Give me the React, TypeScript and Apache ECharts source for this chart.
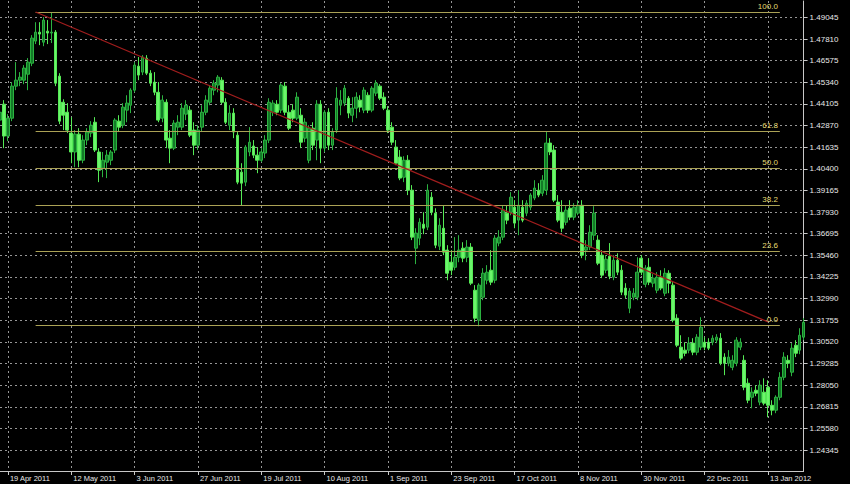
import React, { useEffect, useRef } from "react";
import * as echarts from "echarts";

const openP = [
  1.4318, 1.4409, 1.4227, 1.4329, 1.4512, 1.4546, 1.4546, 1.4580, 1.4643, 1.4769,
  1.4820, 1.4763, 1.4826, 1.4815, 1.4820, 1.4569, 1.4420, 1.4363, 1.4244, 1.4136,
  1.4238, 1.4089, 1.4204, 1.4244, 1.4306, 1.4136, 1.4043, 1.4078, 1.4089, 1.4147,
  1.4312, 1.4289, 1.4375, 1.4403, 1.4489, 1.4626, 1.4592, 1.4672, 1.4586, 1.4535,
  1.4477, 1.4329, 1.4420, 1.4215, 1.4158, 1.4278, 1.4278, 1.4352, 1.4375, 1.4261,
  1.4175, 1.4278, 1.4363, 1.4420, 1.4489, 1.4518, 1.4546, 1.4420, 1.4289, 1.4358,
  1.4232, 1.4021, 1.3964, 1.4136, 1.4170, 1.4118, 1.4089, 1.4130, 1.4204, 1.4363,
  1.4409, 1.4375, 1.4512, 1.4363, 1.4375, 1.4329, 1.4346, 1.4215, 1.4089, 1.4272,
  1.4204, 1.4409, 1.4158, 1.4363, 1.4175, 1.4261, 1.4403, 1.4415, 1.4443, 1.4346,
  1.4386, 1.4432, 1.4375, 1.4460, 1.4375, 1.4472, 1.4512, 1.4449, 1.4375, 1.4278,
  1.4164, 1.4107, 1.3992, 1.4089, 1.3918, 1.3587, 1.3644, 1.3724, 1.3707, 1.3878,
  1.3787, 1.3598, 1.3701, 1.3576, 1.3507, 1.3478, 1.3535, 1.3587, 1.3535, 1.3593,
  1.3347, 1.3176, 1.3307, 1.3404, 1.3461, 1.3404, 1.3616, 1.3650, 1.3787, 1.3792,
  1.3821, 1.3747, 1.3821, 1.3787, 1.3821, 1.3873, 1.3918, 1.3901, 1.3918, 1.4187,
  1.4147, 1.3850, 1.3792, 1.3735, 1.3815, 1.3764, 1.3787, 1.3832, 1.3576, 1.3593,
  1.3661, 1.3633, 1.3547, 1.3461, 1.3541, 1.3421, 1.3518, 1.3461, 1.3359, 1.3244,
  1.3307, 1.3307, 1.3530, 1.3381, 1.3478, 1.3387, 1.3347, 1.3421, 1.3330, 1.3444,
  1.3376, 1.3187, 1.3022, 1.3005, 1.3005, 1.3045, 1.2993, 1.3022, 1.3050, 1.3050,
  1.3050, 1.3062, 1.3073, 1.2965, 1.2930, 1.2907, 1.2930, 1.3022, 1.2947, 1.2816,
  1.2736, 1.2776, 1.2708, 1.2765, 1.2793, 1.2690, 1.2662, 1.2736, 1.2850, 1.2947,
  1.2879, 1.3033, 1.3005, 1.3079,
];

const highP = [
  1.4386, 1.4432, 1.4352, 1.4535, 1.4649, 1.4592, 1.4632, 1.4672, 1.4803, 1.4877,
  1.4877, 1.4906, 1.4889, 1.4934, 1.4832, 1.4586, 1.4437, 1.4415, 1.4335, 1.4261,
  1.4272, 1.4232, 1.4272, 1.4312, 1.4335, 1.4158, 1.4136, 1.4147, 1.4147, 1.4329,
  1.4346, 1.4415, 1.4460, 1.4500, 1.4649, 1.4678, 1.4689, 1.4689, 1.4603, 1.4592,
  1.4535, 1.4460, 1.4437, 1.4261, 1.4318, 1.4346, 1.4415, 1.4432, 1.4398, 1.4306,
  1.4289, 1.4403, 1.4460, 1.4518, 1.4546, 1.4575, 1.4563, 1.4443, 1.4403, 1.4386,
  1.4250, 1.4072, 1.4175, 1.4278, 1.4204, 1.4164, 1.4158, 1.4232, 1.4443, 1.4432,
  1.4432, 1.4529, 1.4535, 1.4403, 1.4409, 1.4477, 1.4386, 1.4329, 1.4289, 1.4306,
  1.4432, 1.4432, 1.4375, 1.4386, 1.4272, 1.4506, 1.4489, 1.4518, 1.4455, 1.4449,
  1.4477, 1.4460, 1.4506, 1.4477, 1.4512, 1.4546, 1.4523, 1.4477, 1.4398, 1.4306,
  1.4204, 1.4147, 1.4112, 1.4118, 1.3947, 1.3701, 1.3758, 1.3792, 1.3952, 1.3907,
  1.3815, 1.3758, 1.3832, 1.3604, 1.3576, 1.3650, 1.3661, 1.3621, 1.3633, 1.3616,
  1.3376, 1.3387, 1.3473, 1.3490, 1.3576, 1.3661, 1.3690, 1.3832, 1.3832, 1.3907,
  1.3861, 1.3918, 1.3861, 1.3861, 1.3901, 1.3975, 1.3958, 1.4004, 1.4250, 1.4215,
  1.4175, 1.3890, 1.3861, 1.3832, 1.3861, 1.3844, 1.3861, 1.3861, 1.3633, 1.3718,
  1.3827, 1.3661, 1.3576, 1.3547, 1.3616, 1.3547, 1.3558, 1.3490, 1.3387, 1.3359,
  1.3359, 1.3535, 1.3547, 1.3490, 1.3530, 1.3439, 1.3450, 1.3461, 1.3473, 1.3461,
  1.3393, 1.3210, 1.3090, 1.3050, 1.3079, 1.3073, 1.3096, 1.3193, 1.3079, 1.3073,
  1.3090, 1.3096, 1.3102, 1.2987, 1.3005, 1.2976, 1.3079, 1.3073, 1.2976, 1.2844,
  1.2793, 1.2805, 1.2833, 1.2844, 1.2833, 1.2719, 1.2747, 1.2879, 1.2993, 1.2976,
  1.3045, 1.3062, 1.3130, 1.3187,
];

const lowP = [
  1.4295, 1.4158, 1.4198, 1.4312, 1.4489, 1.4512, 1.4523, 1.4489, 1.4626, 1.4752,
  1.4746, 1.4740, 1.4752, 1.4758, 1.4512, 1.4295, 1.4261, 1.4244, 1.4072, 1.4049,
  1.4049, 1.4072, 1.4175, 1.4221, 1.4136, 1.3964, 1.3992, 1.3987, 1.4061, 1.4130,
  1.4250, 1.4272, 1.4306, 1.4358, 1.4477, 1.4546, 1.4575, 1.4575, 1.4512, 1.4460,
  1.4306, 1.4306, 1.4158, 1.4072, 1.4147, 1.4232, 1.4261, 1.4318, 1.4221, 1.4118,
  1.4147, 1.4250, 1.4346, 1.4403, 1.4460, 1.4477, 1.4409, 1.4295, 1.4261, 1.4215,
  1.3952, 1.3832, 1.3941, 1.4112, 1.4101, 1.4015, 1.4078, 1.4101, 1.4187, 1.4341,
  1.4346, 1.4358, 1.4346, 1.4261, 1.4306, 1.4318, 1.4158, 1.4192, 1.4072, 1.4147,
  1.4089, 1.4072, 1.4136, 1.4147, 1.4147, 1.4244, 1.4346, 1.4398, 1.4329, 1.4306,
  1.4329, 1.4363, 1.4358, 1.4358, 1.4363, 1.4455, 1.4432, 1.4375, 1.4244, 1.4175,
  1.4061, 1.3975, 1.3964, 1.3890, 1.3633, 1.3496, 1.3604, 1.3667, 1.3690, 1.3775,
  1.3587, 1.3576, 1.3547, 1.3404, 1.3433, 1.3461, 1.3507, 1.3507, 1.3507, 1.3376,
  1.3164, 1.3141, 1.3290, 1.3381, 1.3376, 1.3387, 1.3598, 1.3633, 1.3724, 1.3775,
  1.3701, 1.3661, 1.3735, 1.3770, 1.3804, 1.3861, 1.3878, 1.3884, 1.3890, 1.4118,
  1.3850, 1.3735, 1.3678, 1.3718, 1.3747, 1.3747, 1.3775, 1.3530, 1.3518, 1.3576,
  1.3633, 1.3490, 1.3416, 1.3444, 1.3410, 1.3404, 1.3433, 1.3319, 1.3302, 1.3216,
  1.3290, 1.3290, 1.3433, 1.3364, 1.3376, 1.3364, 1.3330, 1.3347, 1.3313, 1.3330,
  1.3164, 1.3022, 1.2947, 1.2970, 1.2987, 1.2976, 1.2976, 1.3005, 1.3005, 1.3005,
  1.3033, 1.3045, 1.2919, 1.2862, 1.2913, 1.2890, 1.2913, 1.3005, 1.2776, 1.2702,
  1.2673, 1.2742, 1.2690, 1.2690, 1.2622, 1.2633, 1.2645, 1.2719, 1.2833, 1.2902,
  1.2856, 1.2965, 1.2982, 1.3062,
];

const closeP = [
  1.4363, 1.4227, 1.4329, 1.4512, 1.4546, 1.4563, 1.4615, 1.4649, 1.4786, 1.4820,
  1.4809, 1.4889, 1.4815, 1.4820, 1.4529, 1.4312, 1.4346, 1.4261, 1.4136, 1.4238,
  1.4089, 1.4204, 1.4250, 1.4289, 1.4147, 1.4032, 1.4089, 1.4118, 1.4136, 1.4318,
  1.4278, 1.4392, 1.4415, 1.4489, 1.4632, 1.4575, 1.4678, 1.4586, 1.4529, 1.4477,
  1.4318, 1.4432, 1.4204, 1.4158, 1.4301, 1.4306, 1.4386, 1.4403, 1.4232, 1.4175,
  1.4261, 1.4363, 1.4432, 1.4500, 1.4529, 1.4563, 1.4420, 1.4306, 1.4358, 1.4250,
  1.3964, 1.3958, 1.4164, 1.4192, 1.4118, 1.4089, 1.4136, 1.4204, 1.4420, 1.4415,
  1.4363, 1.4518, 1.4363, 1.4272, 1.4329, 1.4449, 1.4192, 1.4306, 1.4272, 1.4175,
  1.4409, 1.4158, 1.4363, 1.4175, 1.4250, 1.4443, 1.4432, 1.4500, 1.4358, 1.4386,
  1.4449, 1.4392, 1.4489, 1.4375, 1.4500, 1.4529, 1.4443, 1.4386, 1.4261, 1.4192,
  1.4072, 1.3987, 1.4089, 1.3918, 1.3650, 1.3673, 1.3735, 1.3701, 1.3918, 1.3792,
  1.3604, 1.3718, 1.3564, 1.3444, 1.3461, 1.3535, 1.3576, 1.3530, 1.3593, 1.3387,
  1.3187, 1.3376, 1.3444, 1.3450, 1.3393, 1.3644, 1.3650, 1.3804, 1.3747, 1.3878,
  1.3730, 1.3832, 1.3747, 1.3844, 1.3890, 1.3930, 1.3890, 1.3975, 1.4187, 1.4136,
  1.3861, 1.3747, 1.3701, 1.3804, 1.3764, 1.3821, 1.3832, 1.3547, 1.3593, 1.3678,
  1.3787, 1.3501, 1.3433, 1.3524, 1.3427, 1.3518, 1.3450, 1.3336, 1.3319, 1.3342,
  1.3330, 1.3450, 1.3450, 1.3473, 1.3393, 1.3416, 1.3421, 1.3359, 1.3444, 1.3387,
  1.3176, 1.3033, 1.2959, 1.2987, 1.3045, 1.2993, 1.3079, 1.3136, 1.3022, 1.3016,
  1.3073, 1.3079, 1.2930, 1.2930, 1.2965, 1.2947, 1.3062, 1.3050, 1.2793, 1.2719,
  1.2765, 1.2759, 1.2805, 1.2702, 1.2690, 1.2662, 1.2736, 1.2850, 1.2965, 1.2930,
  1.3016, 1.2987, 1.3090, 1.3164,
];

const tickLabels = [
  "19 Apr 2011", "12 May 2011", "3 Jun 2011", "27 Jun 2011", "19 Jul 2011",
  "10 Aug 2011", "1 Sep 2011", "23 Sep 2011", "17 Oct 2011", "8 Nov 2011",
  "30 Nov 2011", "22 Dec 2011", "13 Jan 2012",
];

const yTicks = [
  1.24345, 1.2558, 1.26815, 1.2805, 1.29285, 1.3052, 1.31755, 1.3299, 1.34225,
  1.3546, 1.36695, 1.3793, 1.39165, 1.404, 1.41635, 1.4287, 1.44105, 1.4534,
  1.46575, 1.4781, 1.49045,
];

const fibHigh = 1.4935;
const fibLow = 1.3147;
const fibLevels = [100, 61.8, 50, 38.2, 23.6, 0];
const fibStartIdx = 9;
const fibEndIdx = 197;
const trendStart = { idx: 9, price: 1.4935 };
const trendEnd = { idx: 194, price: 1.3166 };

const startDate = { y: 2011, m: 3, d: 15 };
const skippedDays = ["2011-04-22"];

const MONTHS = ["Jan", "Feb", "Mar", "Apr", "May", "Jun", "Jul", "Aug", "Sep", "Oct", "Nov", "Dec"];

function buildDates(count: number): string[] {
  const out: string[] = [];
  const d = new Date(Date.UTC(startDate.y, startDate.m, startDate.d));
  while (out.length < count) {
    const wd = d.getUTCDay();
    const iso = d.toISOString().slice(0, 10);
    if (wd !== 0 && wd !== 6 && !skippedDays.includes(iso)) {
      out.push(`${d.getUTCDate()} ${MONTHS[d.getUTCMonth()]} ${d.getUTCFullYear()}`);
    }
    d.setUTCDate(d.getUTCDate() + 1);
  }
  return out;
}

export default function App() {
  const ref = useRef<HTMLDivElement>(null);
  useEffect(() => {
    const chart = echarts.init(ref.current!, null, { renderer: "svg" });
    const dates = buildDates(openP.length);
    const data = openP.map((o, i) => [o, closeP[i], lowP[i], highP[i]]);
    const showAt = (_i: number, v: string) => tickLabels.includes(v);

    const fibLines = fibLevels.map((lvl) => {
      const p = fibLow + ((fibHigh - fibLow) * lvl) / 100;
      return [
        { coord: [dates[fibStartIdx], p], name: lvl.toFixed(1) },
        { coord: [dates[fibEndIdx], p] },
      ];
    });
    const trendLine = [
      {
        coord: [dates[trendStart.idx], trendStart.price],
        name: "",
        lineStyle: { color: "#a11d1d", width: 1.2, type: "solid" },
        label: { show: false },
      },
      { coord: [dates[trendEnd.idx], trendEnd.price] },
    ];

    const option: any = {
      animation: false,
      backgroundColor: "#000000",
      grid: { left: 0, top: 1, width: 803.6, height: 470, containLabel: false },
      xAxis: {
        type: "category",
        data: dates,
        boundaryGap: false,
        axisLine: { show: true, lineStyle: { color: "#c8c8c8", width: 1 } },
        axisTick: { show: true, interval: showAt, length: 4, lineStyle: { color: "#c8c8c8" } },
        axisLabel: {
          show: true,
          interval: showAt,
          align: "left",
          margin: 3,
          padding: [0, 0, 0, 2],
          color: "#e8e8e8",
          fontSize: 7.5,
          fontFamily: "Liberation Sans",
        },
        splitLine: {
          show: true,
          interval: showAt,
          lineStyle: { color: "#969696", type: [2, 3], width: 1 },
        },
      },
      yAxis: {
        type: "value",
        position: "right",
        min: 1.2315,
        max: 1.4998,
        scale: true,
        axisLine: { show: true, lineStyle: { color: "#c8c8c8", width: 1 } },
        axisTick: { show: true, length: 4, customValues: yTicks, lineStyle: { color: "#c8c8c8" } },
        axisLabel: {
          show: true,
          customValues: yTicks,
          formatter: (v: number) => v.toFixed(5),
          margin: 6,
          color: "#e8e8e8",
          fontSize: 8,
          fontFamily: "Liberation Sans",
        },
        splitLine: {
          show: true,
          customValues: yTicks,
          lineStyle: { color: "#969696", type: [2, 3], width: 1 },
        },
      },
      series: [
        {
          type: "candlestick",
          data,
          barWidth: 3.2,
          itemStyle: {
            color: "#137a27",
            color0: "#6cf56c",
            borderColor: "#2bb240",
            borderColor0: "#55ea55",
            borderWidth: 1,
          },
          markLine: {
            silent: true,
            symbol: ["none", "none"],
            animation: false,
            lineStyle: { color: "#aba255", width: 1, type: "solid" },
            label: {
              show: true,
              position: "insideEndTop",
              formatter: "{b}",
              color: "#e6dc72",
              fontSize: 8,
              fontFamily: "Liberation Sans",
              distance: 2,
            },
            data: [...fibLines, trendLine],
          },
        },
      ],
    };
    chart.setOption(option);
    return () => chart.dispose();
  }, []);
  return (
    <div
      ref={ref}
      style={{ position: "fixed", left: 0, top: 0, width: 850, height: 484, background: "#000" }}
    />
  );
}
